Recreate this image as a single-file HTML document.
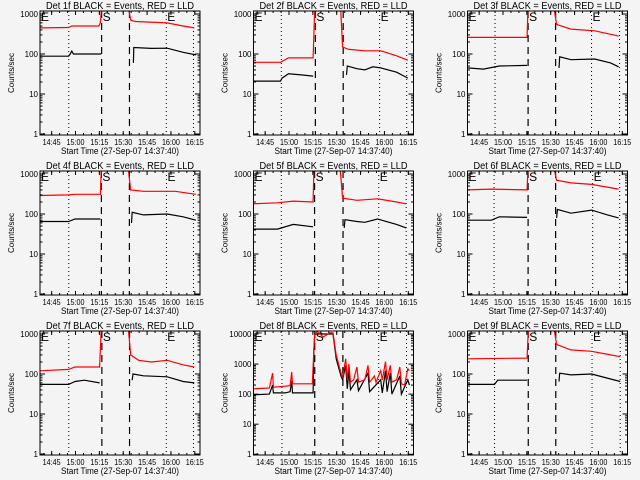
<!DOCTYPE html>
<html><head><meta charset="utf-8"><style>
body{margin:0;background:#f4f4f4;}
svg{display:block;font-family:"Liberation Sans",sans-serif;}
</style></head><body>
<svg id="chart" width="640" height="480" viewBox="0 0 640 480" xmlns="http://www.w3.org/2000/svg">
<rect width="640" height="480" fill="#f4f4f4"/>
</svg>
<script>
// Data: times in minutes after 14:37:40, values counts/sec
const detNames = ["1f","2f","3f","4f","5f","6f","7f","8f","9f"];
const xTickLabels = ["14:45","15:00","15:15","15:30","15:45","16:00","16:15"];
const xTickTimes = [7.33,22.33,37.33,52.33,67.33,82.33,97.33];
const yTickLabels3 = ["1","10","100","1000"];
const yTickLabels4 = ["1","10","100","1000","10000"];
const markerTimes = [
 [18.1,38.75,56.25,79.4,96.5],[17.5,38.9,56.4,79.3,96.3],[17.3,38.1,55.4,78,95.6],
 [18.1,38.6,56.2,79.5,96.5],[17.5,38.4,56.3,78.75,96],[16.7,38.1,55.4,78.7,95.7],
 [18.1,38.9,56.3,79.4,96.5],[17.9,38.5,56.2,78.7,96.2],[17,38.2,55.5,78.3,96]
];
const black1=[[[0,88],[18,88],[19,100],[20,118],[21,100],[38.5,100]],[[58.7,60],[59,145],[70,138],[80,140],[90,110],[98,95]]];
const red1=[[[0,450],[18,460],[20,500],[37,500],[38,600],[38.6,1300]],[[55.8,1300],[57,700],[60,650],[80,600],[90,500],[97,450]]];
const black2=[[[0,21],[17,21],[18,25],[22,32],[30,30],[37.5,28]],[[58.5,30],[59,50],[65,43],[70,40],[75,48],[80,45],[90,35],[97,25]]];
const red2=[[[0,62],[17,62],[22,80],[30,80],[37.5,80],[38.5,1300]],[[54.8,1300],[56,150],[60,130],[70,120],[80,120],[90,90],[97,70]]];
const black3=[[[0,45],[10,42],[20,50],[37.5,52]],[[57.5,45],[58,85],[65,72],[80,75],[90,60],[95,48]]];
const red3=[[[0,260],[37.5,260],[38,1300]],[[54.5,1300],[56,550],[65,420],[80,380],[95,280]]];
const black4=[[[0,65],[18,65],[22,75],[38,75]],[[57.5,60],[58,110],[65,95],[80,100],[90,85],[98,70]]];
const red4=[[[0,290],[18,300],[22,310],[38,310],[38.5,1300]],[[55.5,1300],[57,400],[65,370],[85,370],[98,310]]];
const black5=[[[0,42],[15,42],[25,55],[37.5,48]],[[57,45],[57.5,72],[65,65],[70,62],[78,75],[90,55],[96,45]]];
const red5=[[[0,180],[15,190],[25,210],[37.5,200],[38,1300]],[[54.5,1300],[56,250],[65,220],[78,240],[90,200],[96,180]]];
const black6=[[[0,70],[15,70],[20,85],[37.5,82]],[[56,80],[56.5,130],[65,105],[78,125],[88,95],[95,80]]];
const red6=[[[0,400],[15,420],[37.5,400],[38,1300]],[[54.5,1300],[56,700],[65,600],[78,550],[95,420]]];
const black7=[[[0,55],[18,55],[22,65],[28,70],[37.5,60]],[[58,70],[58.5,100],[65,90],[80,85],[90,65],[97,60]]];
const red7=[[[0,120],[18,130],[22,150],[37.5,150],[38.5,1300]],[[55.6,1300],[57,300],[62,220],[70,200],[80,220],[90,170],[97,150]]];
const black8=[[[0,95],[10,100],[12,200],[12.5,110],[20,110],[23,120],[24,280],[24.5,110],[37.5,110],[38,3000],[38.5,10000],[50,10000],[52,1500],[55,400],[56,300],[58,900],[59,150],[60,600],[61,140],[65,300],[66,130],[72,500],[73,120],[80,300],[81,110],[83,600],[84,120],[86,500],[87,100],[92,400],[93,100],[97,300],[98,200]]];
const red8=[[[0,150],[10,160],[12,500],[12.5,170],[23,190],[24,550],[24.5,220],[37,220],[38,3000],[38.5,10000],[40,12000],[44,8000],[48,11000],[50,11000],[52,2000],[55,500],[56,350],[58,1500],[59,300],[60,1000],[61,250],[63,300],[65,800],[66,250],[70,300],[72,900],[73,250],[76,400],[77,250],[80,600],[81,300],[83,1200],[84,300],[86,900],[87,250],[90,300],[92,800],[93,220],[95,200],[97,700],[98,600]]];
const black9=[[[0,55],[17,55],[19,70],[37.5,70]],[[57.5,65],[58,105],[65,95],[78,100],[90,75],[96,65]]];
const red9=[[[0,240],[37.5,250],[38.2,1300]],[[54.5,1300],[56,550],[65,400],[78,370],[90,300],[96,270]]];
const blackSeries=[black1,black2,black3,black4,black5,black6,black7,black8,black9];
const redSeries=[red1,red2,red3,red4,red5,red6,red7,red8,red9];

const NS="http://www.w3.org/2000/svg";
const svg=document.getElementById('chart');
function mk(tag,attrs,parent){const e=document.createElementNS(NS,tag);for(const k in attrs)e.setAttribute(k,attrs[k]);(parent||svg).appendChild(e);return e;}
const colOff=[0,213.5,427.5], rowOff=[0,160,320];
const PW=160, PH=124, TMAX=100.6;
for(let p=0;p<9;p++){
  const cx=colOff[p%3], ry=rowOff[Math.floor(p/3)];
  const L=cx+40, T=ry+11, R=L+PW, B=T+PH;
  const big = p===7;
  const lmin=-0.025, lmax= big?4.1:3.075;
  const xs=t=>L+t/TMAX*PW;
  const ys=v=>B-(Math.log10(v)-lmin)/(lmax-lmin)*PH;
  const g=mk('g',{});
  
  
  const cp=mk('clipPath',{id:'cp'+p},g); mk('rect',{x:L,y:T,width:PW,height:PH},cp);
  const ti=mk('text',{x:(L+R)/2,y:ry+9,'text-anchor':'middle','font-size':10,fill:'#000',textLength:148,lengthAdjust:'spacingAndGlyphs'},g);
  ti.textContent='Det '+detNames[p]+' BLACK = Events, RED = LLD';
  
  
  const yl=mk('text',{x:0,y:0,'text-anchor':'middle','font-size':8,fill:'#000',transform:`translate(${cx+14},${(T+B)/2}) rotate(-90)`},g);
  yl.textContent='Counts/sec';
  
  
  const xt=mk('text',{x:(L+R)/2,y:ry+154,'text-anchor':'middle','font-size':9,fill:'#000',textLength:118,lengthAdjust:'spacingAndGlyphs'},g);
  xt.textContent='Start Time (27-Sep-07 14:37:40)';
  
  
  const mt=markerTimes[p];
  mt.forEach((t,i)=>{
    const dashed=(i===1||i===2);
    const ln=mk('line',{x1:xs(t),x2:xs(t),y1:T,y2:B,stroke:'#000','stroke-width':dashed?1.2:1,'stroke-dasharray':dashed?'7,5':'1,3'},g);
    
    
  });
  [[L+1,'E'],[xs(mt[1])+1,'S'],[xs(mt[3])+1,'E']].forEach(([x,s])=>{
    const tx=mk('text',{x:x,y:T+10,'font-size':12,fill:'#000'},g);
    tx.textContent=s;
    
    
  });
  const draw=(segs,col,name)=>segs.forEach(seg=>{
    const d=seg.map((pt,i)=>(i?'L':'M')+xs(pt[0]).toFixed(1)+','+ys(pt[1]).toFixed(1)).join('');
    const pa=mk('path',{d:d,fill:'none',stroke:col,'stroke-width':1.2,'clip-path':`url(#cp${p})`},g);
    
    
  });
  draw(blackSeries[p],'#000','events-line');
  draw(redSeries[p],'#ff0000','lld-line');
  const fr=mk('rect',{x:L,y:T,width:PW,height:PH,fill:'none',stroke:'#000','stroke-width':1},g);
  
  
  const labs= big?yTickLabels4:yTickLabels3;
  labs.forEach((lb,i)=>{
    const y=ys(Math.pow(10,i));
    mk('line',{x1:L,x2:L+5,y1:y,y2:y,stroke:'#000'},g);
    mk('line',{x1:R,x2:R-5,y1:y,y2:y,stroke:'#000'},g);
    const tx=mk('text',{x:L-2,y:y+3,'text-anchor':'end','font-size':8,fill:'#000'},g);
    tx.textContent=lb;
    
    
    for(let m=2;m<10;m++){const v=Math.pow(10,i)*m;const yy=ys(v);if(yy<T)continue;
      mk('line',{x1:L,x2:L+2.5,y1:yy,y2:yy,stroke:'#000'},g);mk('line',{x1:R,x2:R-2.5,y1:yy,y2:yy,stroke:'#000'},g);}
  });
  xTickTimes.forEach((t,i)=>{
    const x=xs(t);
    mk('line',{x1:x,x2:x,y1:B,y2:B-4,stroke:'#000'},g);
    mk('line',{x1:x,x2:x,y1:T,y2:T+4,stroke:'#000'},g);
    const tx=mk('text',{x:x,y:ry+145,'text-anchor':'middle','font-size':8,fill:'#000',textLength:18,lengthAdjust:'spacingAndGlyphs'},g);
    tx.textContent=xTickLabels[i];
    
    
  });
  for(let t=xTickTimes[0]-5;t<TMAX;t+=5){const x=xs(t);if(t<0)continue;
    mk('line',{x1:x,x2:x,y1:B,y2:B-2,stroke:'#000'},g);mk('line',{x1:x,x2:x,y1:T,y2:T+2,stroke:'#000'},g);}
}
</script>
</body></html>
